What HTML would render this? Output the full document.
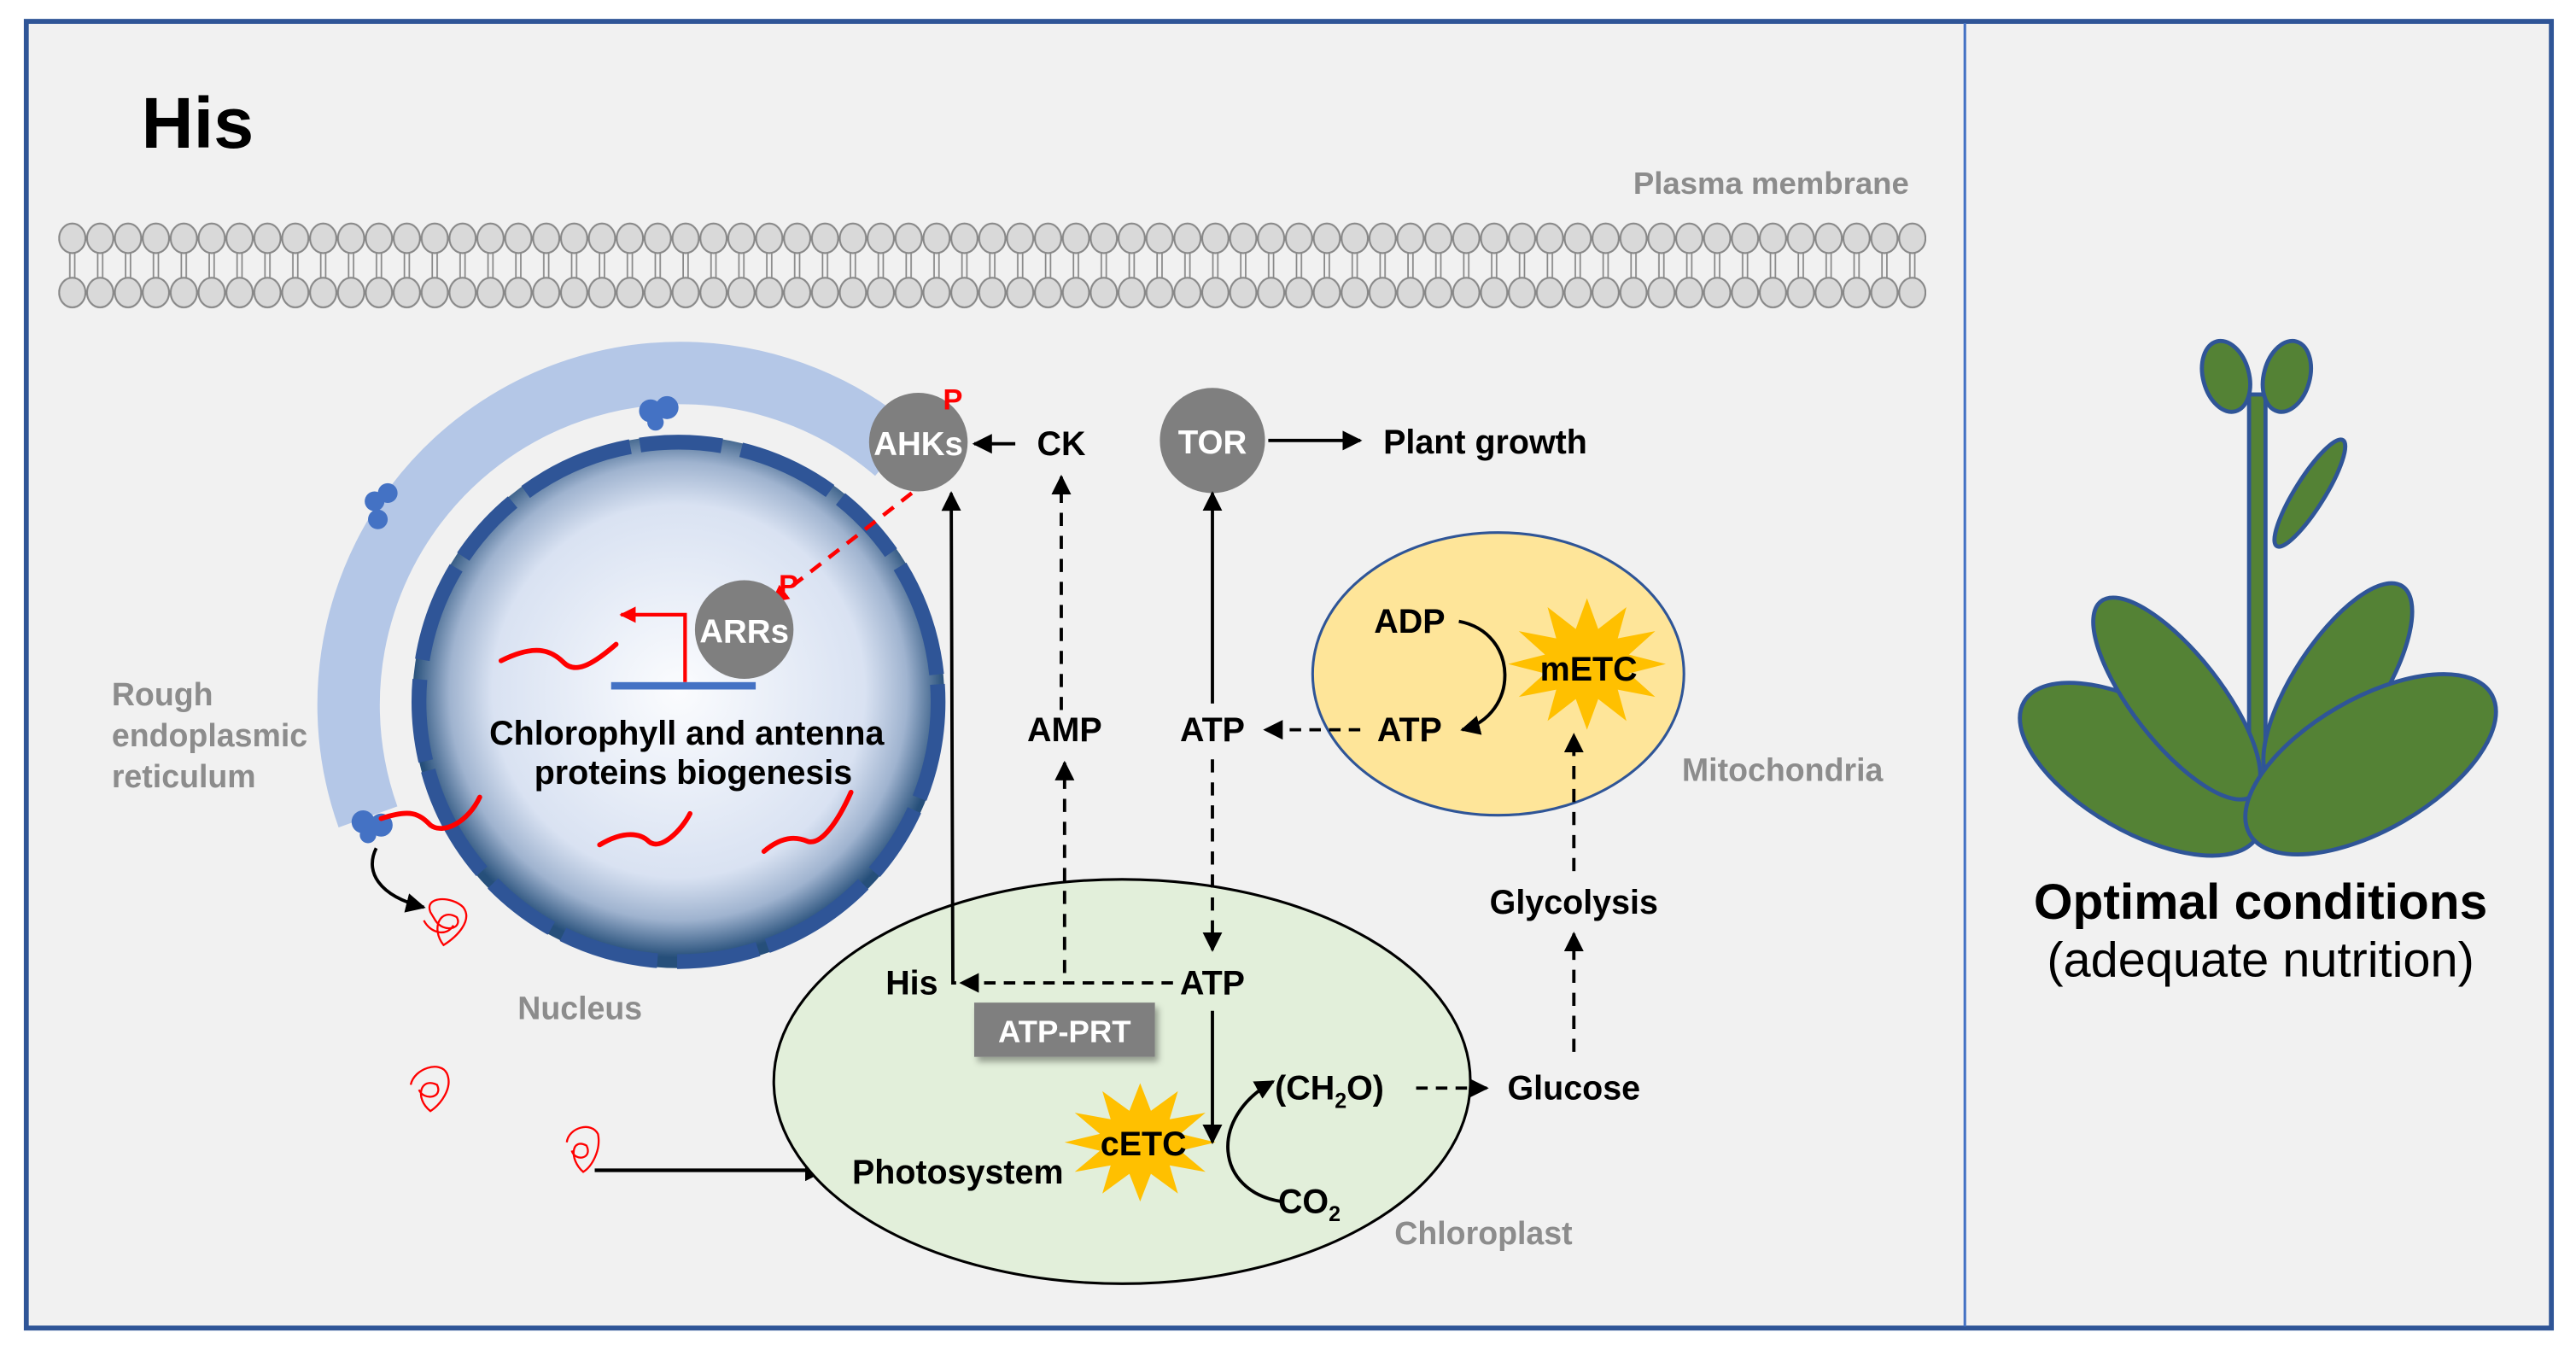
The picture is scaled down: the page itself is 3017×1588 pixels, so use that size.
<!DOCTYPE html>
<html><head><meta charset="utf-8"><style>html,body{margin:0;padding:0;background:#fff}svg{display:block}text{font-family:"Liberation Sans",Arial,sans-serif}</style></head><body>
<svg width="3017" height="1588" viewBox="0 0 1568 825" preserveAspectRatio="none" xmlns="http://www.w3.org/2000/svg">
<defs>
<marker id="ahs" viewBox="0 0 10 10" refX="9" refY="5" markerWidth="6" markerHeight="6" orient="auto" markerUnits="strokeWidth"><path d="M0,0L10,5L0,10z" fill="#000"/></marker>
<marker id="ahr" viewBox="0 0 10 10" refX="9" refY="5" markerWidth="4.5" markerHeight="4.5" orient="auto" markerUnits="strokeWidth"><path d="M0,0L10,5L0,10z" fill="#f00"/></marker>
<pattern id="mem" patternUnits="userSpaceOnUse" x="35.5" y="125" width="16.97" height="70">
<line x1="7" y1="28" x2="7" y2="45" stroke="#888" stroke-width="0.9"/><line x1="10" y1="28" x2="10" y2="45" stroke="#888" stroke-width="0.9"/>
<ellipse cx="8.5" cy="20" rx="8" ry="9" fill="#d9d9d9" stroke="#888" stroke-width="1.1"/>
<ellipse cx="8.5" cy="53" rx="8" ry="9" fill="#d9d9d9" stroke="#888" stroke-width="1.1"/>
</pattern>
<radialGradient id="nuc" cx="0.5" cy="0.48" r="0.5"><stop offset="0" stop-color="#fbfcfe"/><stop offset="0.7" stop-color="#d9e2f2"/><stop offset="0.86" stop-color="#9fb3cf"/><stop offset="1" stop-color="#264f7a"/></radialGradient>
<filter id="sh" x="-20%" y="-20%" width="150%" height="160%"><feDropShadow dx="2" dy="3" stdDeviation="2" flood-color="#000" flood-opacity="0.35"/></filter>
<polygon id="star" points="40,0 21.3,5.7 34.6,20 15.6,15.6 20,34.6 5.7,21.3 0,40 -5.7,21.3 -20,34.6 -15.6,15.6 -34.6,20 -21.3,5.7 -40,0 -21.3,-5.7 -34.6,-20 -15.6,-15.6 -20,-34.6 -5.7,-21.3 0,-40 5.7,-21.3 20,-34.6 15.6,-15.6 34.6,-20 21.3,-5.7" fill="#ffc000"/>
</defs>
<rect x="0" y="0" width="1568" height="825" fill="#fff"/>
<rect x="16" y="13" width="1537" height="795" fill="#f1f1f1" stroke="#2f5597" stroke-width="3"/>
<line x1="1196" y1="14" x2="1196" y2="807" stroke="#4472c4" stroke-width="1.6"/>

<text x="86" y="90" font-size="44" font-weight="bold">His</text>
<text x="1162" y="118" font-size="19" font-weight="bold" fill="#8c8c8c" text-anchor="end">Plasma membrane</text>
<rect x="35.5" y="125" width="1137" height="70" fill="url(#mem)"/>

<!-- ER -->
<path d="M224,497 A202,202 0 0 1 545,275" fill="none" stroke="#b4c7e7" stroke-width="38"/>
<!-- nucleus -->
<circle cx="413" cy="427" r="162" fill="url(#nuc)"/>
<circle cx="413" cy="427" r="158" fill="none" stroke="#2f5597" stroke-width="9" stroke-dasharray="60 8 45 10 70 6 50 12" />
<!-- ribosomes -->
<g fill="#4472c4"><circle cx="396" cy="250" r="7"/><circle cx="406" cy="248" r="7"/><circle cx="399" cy="257" r="5"/>
<circle cx="228" cy="305" r="6"/><circle cx="236" cy="300" r="6"/><circle cx="230" cy="316" r="6"/>
<circle cx="221" cy="500" r="7"/><circle cx="232" cy="502" r="7"/><circle cx="224" cy="508" r="5"/></g>
<!-- red genes -->
<g fill="none" stroke="#f00" stroke-width="3" stroke-linecap="round">
<path d="M305,402 C325,392 335,395 343,403 C350,410 360,405 375,392"/>
<path d="M232,498 C250,492 255,495 262,502 C270,508 285,500 292,485"/>
<path d="M365,514 C380,505 390,507 395,512 C402,518 415,505 420,495"/>
<path d="M465,518 C478,507 487,510 492,512 C500,514 510,500 518,482"/>
</g>
<rect x="372" y="415" width="88" height="4.5" fill="#4472c4"/>
<path d="M417,415 V374 H378" fill="none" stroke="#f00" stroke-width="2.2" marker-end="url(#ahr)"/>
<line x1="555" y1="300" x2="470" y2="366" stroke="#f00" stroke-width="2.4" stroke-dasharray="8 6" marker-end="url(#ahr)"/>
<circle cx="559" cy="269" r="30" fill="#7f7f7f"/>
<text x="559" y="277" font-size="20" font-weight="bold" fill="#fff" text-anchor="middle">AHKs</text>
<text x="574" y="249" font-size="18" font-weight="bold" fill="#f00">P</text>
<circle cx="453" cy="383" r="30" fill="#7f7f7f"/>
<text x="453" y="391" font-size="20" font-weight="bold" fill="#fff" text-anchor="middle">ARRs</text>
<text x="474" y="362" font-size="18" font-weight="bold" fill="#f00">P</text>
<text x="418" y="453" font-size="20.5" font-weight="bold" text-anchor="middle">Chlorophyll and antenna</text>
<text x="422" y="477" font-size="20.5" font-weight="bold" text-anchor="middle">proteins biogenesis</text>
<g font-size="19.5" font-weight="bold" fill="#8c8c8c"><text x="68" y="429">Rough</text><text x="68" y="454">endoplasmic</text><text x="68" y="479">reticulum</text>
<text x="353" y="620" text-anchor="middle">Nucleus</text><text x="903" y="757" text-anchor="middle">Chloroplast</text><text x="1085" y="475" text-anchor="middle">Mitochondria</text></g>
<!-- scribble proteins -->
<g fill="none" stroke="#f00" stroke-width="1.2">
<path d="M262,555 C258,545 275,545 282,552 C288,560 278,570 270,575 C262,565 268,552 278,558 C282,565 270,568 265,560 Z M258,560 C262,568 272,570 276,563"/>
<path d="M250,660 C252,650 268,645 272,653 C276,662 268,672 262,676 C252,668 256,655 266,660 C270,668 258,670 255,663"/>
<path d="M345,695 C346,686 360,682 364,690 C366,700 360,710 355,713 C346,705 348,692 357,697 C361,705 350,707 348,700"/>
</g>
<path d="M229,516 C222,530 230,545 258,552" fill="none" stroke="#000" stroke-width="2" marker-end="url(#ahs)"/>
<line x1="362" y1="712" x2="502" y2="712" stroke="#000" stroke-width="2.2" marker-end="url(#ahs)"/>

<!-- chloroplast -->
<ellipse cx="683" cy="658" rx="212" ry="123" fill="#e2efda" stroke="#000" stroke-width="1.6"/>
<!-- mito -->
<ellipse cx="912" cy="410" rx="113" ry="86" fill="#fee599" stroke="#2f5597" stroke-width="1.6"/>
<use href="#star" transform="translate(966,404) scale(1.2,1.0)"/>
<use href="#star" transform="translate(694,695) scale(1.15,0.9)"/>

<g font-size="20.5" font-weight="bold">
<text x="646" y="277" text-anchor="middle">CK</text>
<text x="842" y="276">Plant growth</text>
<text x="648" y="451" text-anchor="middle">AMP</text>
<text x="738" y="451" text-anchor="middle">ATP</text>
<text x="858" y="385" text-anchor="middle">ADP</text>
<text x="858" y="451" text-anchor="middle">ATP</text>
<text x="967" y="414" text-anchor="middle">mETC</text>
<text x="958" y="556" text-anchor="middle">Glycolysis</text>
<text x="555" y="605" text-anchor="middle">His</text>
<text x="738" y="605" text-anchor="middle">ATP</text>
<text x="958" y="669" text-anchor="middle">Glucose</text>
<text x="776" y="669">(CH<tspan font-size="13" dy="5">2</tspan><tspan dy="-5">O)</tspan></text>
<text x="778" y="738">CO<tspan font-size="13" dy="5">2</tspan></text>
<text x="583" y="720" text-anchor="middle">Photosystem</text>
<text x="696" y="703" text-anchor="middle">cETC</text>
</g>
<circle cx="738" cy="268" r="32" fill="#7f7f7f"/>
<text x="738" y="276" font-size="20" font-weight="bold" fill="#fff" text-anchor="middle">TOR</text>
<rect x="593" y="610" width="110" height="33" fill="#7f7f7f" filter="url(#sh)"/>
<text x="648" y="634" font-size="19" font-weight="bold" fill="#fff" text-anchor="middle">ATP-PRT</text>

<!-- connectors -->
<g stroke="#000" stroke-width="2" fill="none">
<line x1="618" y1="270" x2="593" y2="270" marker-end="url(#ahs)"/>
<line x1="772" y1="268" x2="828" y2="268" marker-end="url(#ahs)"/>
<polyline points="582,598 580,598 579,300" marker-end="url(#ahs)"/>
<line x1="714" y1="598" x2="585" y2="598" stroke-dasharray="7 5" marker-end="url(#ahs)"/>
<line x1="648" y1="592" x2="648" y2="464" stroke-dasharray="8 6" marker-end="url(#ahs)"/>
<line x1="646" y1="432" x2="646" y2="290" stroke-dasharray="8 6" marker-end="url(#ahs)"/>
<line x1="738" y1="428" x2="738" y2="300" marker-end="url(#ahs)"/>
<line x1="738" y1="462" x2="738" y2="578" stroke-dasharray="8 6" marker-end="url(#ahs)"/>
<line x1="828" y1="444" x2="770" y2="444" stroke-dasharray="7 5" marker-end="url(#ahs)"/>
<path d="M888,378 C925,385 925,435 890,444" marker-end="url(#ahs)"/>
<line x1="958" y1="530" x2="958" y2="447" stroke-dasharray="8 6" marker-end="url(#ahs)"/>
<line x1="958" y1="640" x2="958" y2="568" stroke-dasharray="8 6" marker-end="url(#ahs)"/>
<line x1="862" y1="662" x2="905" y2="662" stroke-dasharray="7 5" marker-end="url(#ahs)"/>
<line x1="738" y1="615" x2="738" y2="695" marker-end="url(#ahs)"/>
<path d="M780,731 C740,725 735,680 775,658" marker-end="url(#ahs)"/>
</g>

<!-- plant -->
<g fill="#548235" stroke="#2f5597" stroke-width="2.5">
<rect x="1369" y="240" width="10" height="230"/>
<ellipse cx="1406" cy="300" rx="38" ry="9" transform="rotate(-58 1406 300)"/>
<ellipse cx="1355" cy="229" rx="14" ry="22" transform="rotate(-15 1355 229)"/>
<ellipse cx="1392" cy="229" rx="14" ry="22" transform="rotate(15 1392 229)"/>
<ellipse cx="1303" cy="468" rx="82" ry="38" transform="rotate(30 1303 468)"/>
<ellipse cx="1325" cy="425" rx="75" ry="27" transform="rotate(52 1325 425)"/>
<ellipse cx="1423" cy="417" rx="72" ry="27" transform="rotate(-57 1423 417)"/>
<ellipse cx="1443" cy="465" rx="85" ry="40" transform="rotate(-30 1443 465)"/>
</g>
<text x="1376" y="559" font-size="30.5" font-weight="bold" text-anchor="middle">Optimal conditions</text>
<text x="1376" y="594" font-size="30" text-anchor="middle">(adequate nutrition)</text>
</svg>
</body></html>
